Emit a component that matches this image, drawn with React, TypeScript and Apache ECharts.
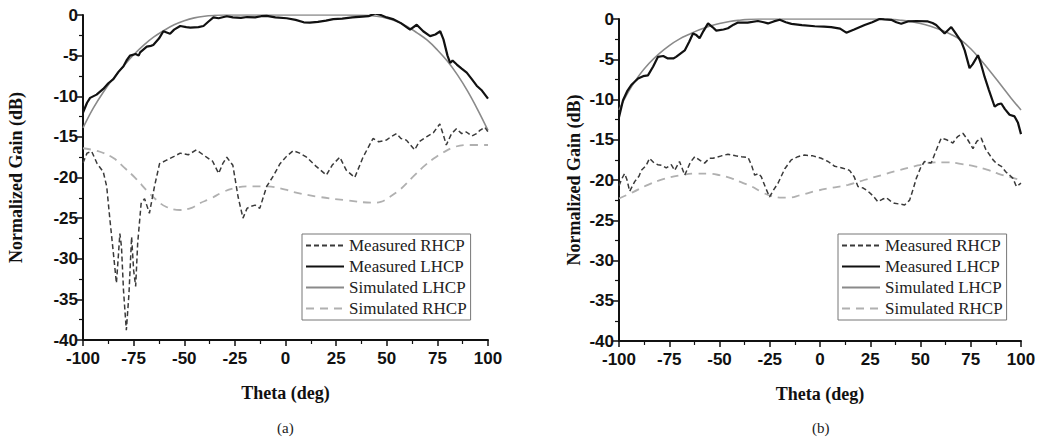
import React, { useEffect, useRef } from "react";
import * as echarts from "echarts";

// ---------- data (theta in deg, normalized gain in dB) ----------
const xTicks = [-100, -75, -50, -25, 0, 25, 50, 75, 100];
const yTicks = [-40, -35, -30, -25, -20, -15, -10, -5, 0];
const seriesNames = ["Measured RHCP", "Measured LHCP", "Simulated LHCP", "Simulated RHCP"];

// (a)
const measuredRhcpA: [number, number][] = [
  [-100, -18.2], [-98, -17.0], [-95.7, -16.8], [-93, -18.3], [-90, -19.3], [-88.3, -21.1], [-86.7, -25.2],
  [-85, -29.3], [-83.5, -33.0], [-82.5, -29.5], [-81.8, -26.9], [-81, -28.5], [-80, -33.9], [-78.6, -38.8],
  [-77.3, -34.3], [-76, -27.3], [-75, -31.4], [-74, -33.4], [-73, -28.1], [-71.3, -23.2], [-69.6, -22.6],
  [-67.2, -24.4], [-64.7, -21.1], [-62.2, -18.3], [-59, -17.9], [-55, -17.4], [-52, -17.0], [-48, -17.2],
  [-44, -16.6], [-39, -17.5], [-36, -18.0], [-33, -19.5], [-31, -18.3], [-29, -17.5], [-26, -18.5],
  [-23.4, -22.4], [-21, -25.0], [-19, -23.8], [-17.6, -23.6], [-15, -23.4], [-12.7, -23.8], [-9.3, -21.1],
  [-6, -19.8], [-2.7, -18.3], [0.5, -17.4], [3.8, -16.7], [7, -17.0], [10.4, -17.5], [15, -18.6],
  [20.2, -19.7], [23, -18.5], [26.8, -17.5], [30, -19.1], [34.2, -20.0], [38.3, -17.5], [43.2, -15.2],
  [46, -15.6], [49.8, -15.4], [52, -15.0], [54.8, -14.6], [57, -15.2], [59.7, -15.4], [63.8, -16.6],
  [66, -15.6], [69.6, -15.0], [73, -14.5], [76.2, -13.4], [78, -14.8], [79.4, -16.0], [82, -14.6],
  [84.4, -14.0], [87, -14.6], [89.3, -14.4], [92, -14.9], [94.3, -14.6], [96, -14.2], [98.4, -13.8], [100, -14.4],
];
const measuredLhcpA: [number, number][] = [
  [-100, -12.0], [-98, -10.8], [-96.5, -10.2], [-93.3, -9.8], [-90, -9.1], [-87.5, -8.4], [-85, -7.9],
  [-82.5, -7.0], [-80, -6.3], [-78.5, -5.6], [-76.8, -5.0], [-74, -4.8], [-72.5, -5.0], [-71.8, -4.6],
  [-68.5, -3.9], [-66.5, -3.8], [-65.3, -3.7], [-62.5, -2.9], [-60.3, -2.0], [-57, -2.3], [-55, -1.8],
  [-52, -1.35], [-49, -1.5], [-47, -1.55], [-43, -1.5], [-40.5, -1.35], [-38, -0.8], [-35.6, -0.3],
  [-33, -0.4], [-29, -0.15], [-26, -0.3], [-22, -0.35], [-19, -0.25], [-15, -0.3], [-12, -0.15],
  [-9.3, -0.1], [-5, -0.3], [0.6, -0.4], [5, -0.6], [9, -0.9], [12, -0.95], [16, -0.85], [20, -0.7],
  [23.6, -0.5], [28, -0.45], [33, -0.3], [38, -0.2], [41, -0.15], [44.2, 0.2], [47, 0.0], [50, -0.3],
  [53, -0.5], [57, -1.0], [61.5, -1.8], [64.8, -1.2], [68, -2.0], [71.4, -2.6], [74, -2.4], [76.4, -2.0],
  [78, -3.0], [80, -5.0], [81.3, -5.9], [82.5, -5.6], [84.6, -6.1], [87, -6.6], [89.5, -7.1], [92, -7.9],
  [94.4, -8.7], [97, -9.3], [100, -10.3],
];
const simulatedLhcpA: [number, number][] = [
  [-100, -13.9], [-95, -11.5], [-90, -9.5], [-85, -7.8], [-80, -6.3], [-75, -4.9], [-70, -3.7], [-65, -2.7],
  [-60, -1.9], [-55, -1.2], [-50, -0.7], [-45, -0.35], [-40, -0.15], [-35, -0.05], [-30, 0], [-20, 0],
  [-10, 0], [0, 0], [10, 0], [20, 0], [30, 0], [40, -0.05], [45, -0.15], [50, -0.4], [55, -0.8],
  [60, -1.4], [65, -2.2], [70, -3.1], [75, -4.3], [80, -5.7], [85, -7.4], [90, -9.4], [95, -11.7], [100, -14.2],
];
const simulatedRhcpA: [number, number][] = [
  [-100, -16.4], [-92, -16.8], [-85, -17.6], [-80, -18.7], [-74, -20.1], [-68.5, -21.6], [-64, -22.7],
  [-59, -23.6], [-52, -24.0], [-46, -23.7], [-42.6, -23.2], [-37, -22.6], [-31, -21.8], [-25, -21.3],
  [-19, -21.1], [-9, -21.1], [0, -21.5], [4, -21.8], [17, -22.4], [30, -22.8], [43, -23.1], [47, -23.0],
  [51.4, -22.4], [57, -21.4], [63, -19.9], [68, -18.7], [73, -17.7], [78, -16.9], [84, -16.2], [90, -16.0], [100, -16.0],
];

// (b)
const measuredRhcpB: [number, number][] = [
  [-100, -20.7], [-98.5, -19.8], [-97.2, -19.2], [-96, -20.0], [-94.7, -21.4], [-93, -20.6], [-92.2, -20.2],
  [-90, -19.5], [-88.9, -18.8], [-86.5, -18.2], [-84.8, -17.3], [-82.5, -17.9], [-80.6, -18.1], [-78.5, -18.2],
  [-76.5, -18.5], [-74, -18.1], [-72.3, -18.8], [-69.9, -17.7], [-68.5, -18.6], [-67.3, -19.4], [-64.5, -17.8],
  [-62.3, -17.1], [-59.5, -17.6], [-57.4, -17.9], [-55, -17.3], [-53.2, -17.3], [-49, -17.0], [-45.8, -16.8],
  [-42, -17.0], [-39.1, -17.1], [-35.8, -17.2], [-34, -18.2], [-32.5, -19.4], [-30.5, -19.2], [-29.2, -19.6],
  [-27, -21.0], [-25.1, -22.1], [-23, -21.2], [-20.9, -20.4], [-17.5, -18.6], [-14.3, -17.5], [-11, -17.1],
  [-7.7, -16.9], [-3.5, -17.0], [0.6, -17.3], [4, -17.7], [7.3, -18.3], [11, -18.5], [14.7, -18.8],
  [17, -19.6], [18.9, -20.8], [21.5, -21.0], [23.9, -21.4], [26.5, -22.0], [28.8, -22.7], [31, -22.4],
  [33, -22.2], [35, -22.6], [37.1, -22.9], [40, -23.0], [42.1, -23.1], [44.6, -22.5], [46.5, -21.0],
  [47.9, -19.8], [50, -18.5], [52, -17.7], [55.3, -17.9], [57.5, -16.5], [60.3, -14.8], [63, -15.0],
  [66.1, -15.4], [68.5, -14.6], [71.1, -14.2], [73.5, -15.0], [76.1, -16.1], [78, -15.2], [80.2, -14.8],
  [82.5, -16.2], [86.1, -17.5], [88, -18.0], [90.2, -18.3], [92.5, -19.0], [94.4, -19.4], [96, -19.8],
  [97.7, -20.8], [100, -20.4],
];
const measuredLhcpB: [number, number][] = [
  [-100, -12.2], [-98, -10.1], [-96, -9.0], [-93.9, -8.2], [-90.5, -7.4], [-88, -7.1], [-85.6, -7.0],
  [-83, -5.9], [-80.6, -4.7], [-78, -4.6], [-75.7, -4.9], [-73, -4.9], [-71.6, -4.7], [-67.3, -3.9],
  [-65, -2.8], [-63.2, -1.8], [-61.5, -2.0], [-59.9, -2.4], [-58, -1.5], [-55.7, -0.55], [-53.5, -1.0],
  [-51.6, -1.45], [-48, -1.3], [-45.8, -1.15], [-43, -0.7], [-40.8, -0.45], [-36, -0.45], [-30.9, -0.25],
  [-28, -0.4], [-25.9, -0.55], [-23, -0.3], [-20, -0.1], [-17, -0.4], [-14.2, -0.6], [-9, -0.75],
  [-2.6, -0.9], [2, -0.95], [5.6, -1.0], [10, -1.2], [13.1, -1.7], [17, -1.3], [22.2, -0.75], [26, -0.4],
  [29.6, 0.0], [32, -0.05], [35.4, -0.1], [38, -0.4], [40.4, -0.6], [43.7, -0.3], [48, -0.25], [53.7, -0.3],
  [56, -0.5], [57.8, -0.75], [60, -1.3], [62, -1.8], [65.3, -1.0], [67, -1.6], [70.3, -2.8], [72, -3.9],
  [74.4, -6.1], [76, -5.6], [78.6, -4.5], [80, -5.5], [81.9, -7.2], [84, -8.8], [86.9, -10.9], [88.5, -10.6],
  [90.2, -10.5], [92, -11.2], [94.3, -11.9], [96.8, -12.1], [98.5, -12.9], [100, -14.3],
];
const simulatedLhcpB: [number, number][] = [
  [-100, -11.3], [-95, -8.9], [-90, -7.0], [-85, -5.5], [-80, -4.3], [-75, -3.3], [-70, -2.5], [-65, -1.9],
  [-60, -1.35], [-55, -0.9], [-50, -0.55], [-45, -0.3], [-40, -0.15], [-35, -0.05], [-30, 0], [-20, 0],
  [-10, 0], [0, 0], [10, 0], [20, 0], [30, 0], [35, -0.05], [40, -0.15], [45, -0.3], [50, -0.55],
  [55, -0.9], [60, -1.35], [65, -1.9], [70, -2.6], [75, -3.7], [80, -5.1], [85, -6.6], [90, -8.2], [95, -9.8], [100, -11.3],
];
const simulatedRhcpB: [number, number][] = [
  [-100, -22.3], [-93, -21.5], [-85.6, -20.6], [-78, -19.9], [-69, -19.4], [-62, -19.2], [-55.7, -19.2],
  [-50, -19.4], [-44, -19.8], [-39, -20.3], [-34, -20.8], [-29, -21.5], [-24, -22.0], [-19, -22.2],
  [-16, -22.2], [-10, -21.9], [-2.6, -21.4], [5, -21.0], [14, -20.6], [22, -20.0], [30.5, -19.4],
  [39, -18.8], [47, -18.3], [52, -18.0], [57, -17.8], [63.6, -17.8], [70, -18.0], [77, -18.3],
  [83, -18.7], [88.5, -19.2], [94, -19.6], [100, -20.0],
];

const SANS = "'Liberation Sans', Arial, sans-serif";
const SERIF = "'Liberation Serif', 'Times New Roman', serif";

function makeSeries(idx: number, data: [number, number][][]) {
  const styles = [
    { color: "#3a3a3a", width: 1.5, type: [5, 3] as any, smooth: false },
    { color: "#111111", width: 2.2, type: "solid" as any, smooth: false },
    { color: "#8a8a8a", width: 1.6, type: "solid" as any, smooth: true },
    { color: "#b0b0b0", width: 1.8, type: [8, 6] as any, smooth: true },
  ];
  const order = [3, 2, 0, 1];
  return order.map((k) => ({
    name: seriesNames[k],
    type: "line",
    xAxisIndex: idx,
    yAxisIndex: idx,
    data: data[k],
    symbol: "none",
    smooth: styles[k].smooth ? 0.4 : false,
    z: 2 + order.indexOf(k),
    lineStyle: { color: styles[k].color, width: styles[k].width, type: styles[k].type },
    itemStyle: { color: styles[k].color },
  }));
}

function xAxis(gridIndex: number) {
  return {
    type: "value",
    gridIndex,
    min: -100,
    max: 100,
    interval: 25,
    name: "Theta (deg)",
    nameLocation: "middle",
    nameGap: 44,
    nameTextStyle: { fontFamily: SERIF, fontWeight: "bold", fontSize: 18, color: "#111" },
    axisLine: { show: true, onZero: false, lineStyle: { color: "#111", width: 2 } },
    axisTick: { show: true, inside: false, length: 6, lineStyle: { color: "#111", width: 1.5 } },
    minorTick: { show: true, splitNumber: 2, length: 4, lineStyle: { color: "#111", width: 1.2 } },
    axisLabel: { fontFamily: SANS, fontWeight: "bold", fontSize: 17, color: "#111", margin: 10,
      formatter: (v: number) => (xTicks.includes(v) ? String(v) : "") },
    splitLine: { show: false },
  };
}

function yAxis(gridIndex: number, nameGap: number) {
  return {
    type: "value",
    gridIndex,
    min: -40,
    max: 0,
    interval: 5,
    name: "Normalized Gain (dB)",
    nameLocation: "middle",
    nameGap,
    nameTextStyle: { fontFamily: SERIF, fontWeight: "bold", fontSize: 18, color: "#111" },
    axisLine: { show: true, onZero: false, lineStyle: { color: "#111", width: 2 } },
    axisTick: { show: true, inside: false, length: 6, lineStyle: { color: "#111", width: 1.5 } },
    minorTick: { show: true, splitNumber: 2, length: 4, lineStyle: { color: "#111", width: 1.2 } },
    axisLabel: { fontFamily: SANS, fontWeight: "bold", fontSize: 17, color: "#111", margin: 5,
      formatter: (v: number) => (yTicks.includes(v) ? String(v) : "") },
    splitLine: { show: false },
  };
}

function legend(left: number) {
  return {
    orient: "vertical",
    left,
    top: 234,
    data: seriesNames,
    selectedMode: false,
    itemWidth: 38,
    itemHeight: 10,
    itemGap: 0,
    padding: [1, 4, 1, 3],
    borderColor: "#777",
    borderWidth: 1,
    backgroundColor: "#fff",
    itemStyle: { opacity: 0 },
    textStyle: { fontFamily: SERIF, fontSize: 17, color: "#222", lineHeight: 21 },
  };
}

export default function App() {
  const ref = useRef<HTMLDivElement>(null);
  useEffect(() => {
    if (!ref.current) return;
    const chart = echarts.init(ref.current, undefined, { renderer: "svg" });
    chart.setOption({
      animation: false,
      backgroundColor: "#ffffff",
      grid: [
        { left: 83, top: 15, width: 405, height: 325 },
        { left: 619, top: 19, width: 402, height: 322 },
      ],
      xAxis: [xAxis(0), xAxis(1)],
      yAxis: [yAxis(0, 58), yAxis(1, 36)],
      legend: [legend(302), legend(838)],
      series: [
        ...makeSeries(0, [measuredRhcpA, measuredLhcpA, simulatedLhcpA, simulatedRhcpA]),
        ...makeSeries(1, [measuredRhcpB, measuredLhcpB, simulatedLhcpB, simulatedRhcpB]),
      ],
      graphic: [
        { type: "text", left: 277, top: 420, style: { text: "(a)", font: `15px ${SERIF}`, fill: "#222" } },
        { type: "text", left: 812, top: 420, style: { text: "(b)", font: `15px ${SERIF}`, fill: "#222" } },
      ],
    });
    return () => chart.dispose();
  }, []);
  return (
    <div style={{ position: "absolute", left: 0, top: 0, width: 1040, height: 440, background: "#fff" }}>
      <div ref={ref} style={{ width: 1040, height: 440 }} />
    </div>
  );
}
